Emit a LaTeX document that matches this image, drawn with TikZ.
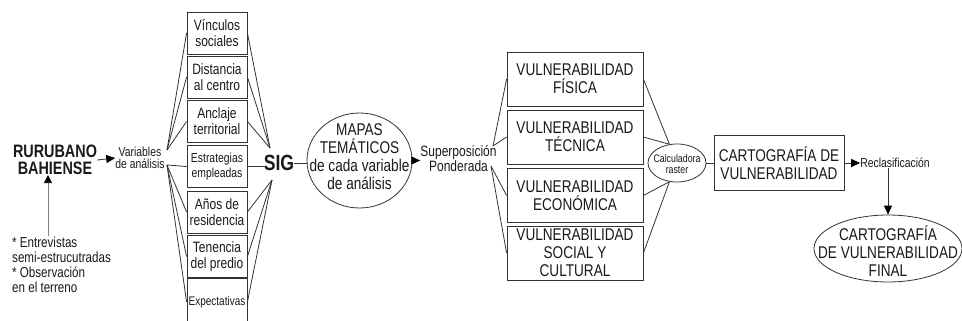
\documentclass[tikz,border=0pt]{standalone}
\usepackage{fontspec}
\setmainfont{Liberation Sans}[FakeStretch=0.8]
\usetikzlibrary{arrows.meta,shapes.geometric}
\begin{document}
\begin{tikzpicture}[x=1pt,y=-1pt,
  ln/.style={draw=black!80, line width=0.8pt},
  arr/.style={ln,-{Triangle[length=9pt,width=8pt,color=black]}},
  txt/.style={inner sep=0pt, align=center, text=black!90},
  varbox/.style={draw=black!80, line width=0.8pt, minimum width=60pt, minimum height=42pt, inner sep=0pt, align=center, text=black!90, font=\fontsize{15}{16}\selectfont},
  vulbox/.style={draw=black!80, line width=0.8pt, minimum width=136pt, minimum height=54pt, inner sep=0pt, align=center, text=black!90, font=\fontsize{17}{18}\selectfont},
  ell/.style={ellipse, draw=black!80, line width=0.8pt, inner sep=0pt}
]
\useasboundingbox (0,0) rectangle (962,321);

% left part
\node[txt, font=\bfseries\fontsize{18}{17}\selectfont] (rb) at (55,160) {RURUBANO\\BAHIENSE};
\node[txt, anchor=west, align=left, font=\fontsize{14.5}{15}\selectfont] (notes) at (12,265) {* Entrevistas\\semi-estrucutradas\\* Observación\\en el terreno};
\coordinate (up0) at (48,236);
\draw[draw=black!50, line width=0.8pt, -{Triangle[length=8pt,width=8pt,color=black]}] (up0) -- (up0 |- rb.south);

\node[txt, font=\fontsize{13}{12}\selectfont] (var) at (140,158) {Variables\\de análisis};
\draw[arr] (rb.east) -- (var.west);

\coordinate (vt) at (167,150);
\coordinate (vb) at (167,165);

\node[varbox] (v1) at (217,33) {Vínculos\\sociales};
\node[varbox] (v2) at (217,77) {Distancia\\al centro};
\node[varbox] (v3) at (217,121.5) {Anclaje\\territorial};
\node[varbox, font=\fontsize{13}{15}\selectfont] (v4) at (217,166.5) {Estrategias\\empleadas};
\node[varbox] (v5) at (217,212) {Años de\\residencia};
\node[varbox] (v6) at (217,256.5) {Tenencia\\del predio};
\node[varbox, minimum height=48pt, font=\fontsize{12.5}{14}\selectfont] (v7) at (217,302) {Expectativas};

\node[txt, font=\bfseries\fontsize{22}{22}\selectfont] (sig) at (279,163) {SIG};
\coordinate (st) at (270,148);
\coordinate (sb) at (272,180);

\foreach \b in {v1,v2,v3} {\draw[ln] (vt) -- (\b.west); \draw[ln] (\b.east) -- (st);}
\foreach \b in {v4,v5,v6,v7} {\draw[ln] (vb) -- (\b.west);}
\foreach \b in {v5,v6,v7} {\draw[ln] (\b.east) -- (sb);}
\draw[ln] (v4.east) -- (v4.east -| sig.west);

% mapas
\node[ell, minimum width=105pt, minimum height=95pt] (mapas) at (359.5,160.5) {};
\node[txt, font=\fontsize{17}{18}\selectfont] (mapastxt) at (359.5,157) {MAPAS\\TEMÁTICOS\\de cada variable\\de análisis};
\draw[ln] (sig.east) -- (sig.east -| mapas.west);

\node[txt, font=\fontsize{15}{15}\selectfont] (sup) at (458.5,159) {Superposición\\Ponderada};
\draw[arr] (mapas.east) -- (mapas.east -| sup.west);

\coordinate (pt) at (493,146);
\coordinate (pb) at (491,166);

\node[vulbox] (w1) at (575,79) {VULNERABILIDAD\\FÍSICA};
\node[vulbox] (w2) at (575,137) {VULNERABILIDAD\\TÉCNICA};
\node[vulbox] (w3) at (575,195.5) {VULNERABILIDAD\\ECONÓMICA};
\node[vulbox] (w4) at (575,253) {VULNERABILIDAD\\SOCIAL Y\\CULTURAL};

\draw[ln] (pt) -- (w1.west);
\draw[ln] (pt) -- (w2.west);
\draw[ln] (pb) -- (w3.west);
\draw[ln] (pb) -- (w4.west);

\node[ell, minimum width=58pt, minimum height=38pt] (calc) at (677,163) {};
\node[txt, font=\fontsize{11}{11}\selectfont] (calctxt) at (677,164) {Calculadora\\raster};
\draw[ln] (w1.east) -- (calc.112);
\draw[ln] (w2.east) -- (calc.112);
\draw[ln] (w3.east) -- (calc.248);
\draw[ln] (w4.east) -- (calc.248);

\node[draw=black!80, line width=0.8pt, minimum width=130pt, minimum height=55pt, inner sep=0pt, align=center, text=black!90, font=\fontsize{17}{18}\selectfont] (cart) at (779,163) {CARTOGRAFÍA DE\\VULNERABILIDAD};
\draw[ln] (calc.east) -- (calc.east -| cart.west);

\node[txt, font=\fontsize{13}{13}\selectfont] (recl) at (895,163) {Reclasificación};
\draw[arr] (cart.east) -- (cart.east -| recl.west);

\node[ell, minimum width=148pt, minimum height=67pt] (fin) at (888,248.5) {};
\node[txt, font=\fontsize{17}{18}\selectfont] (fintxt) at (888,251) {CARTOGRAFÍA\\DE VULNERABILIDAD\\FINAL};
\draw[arr] (fin.north |- recl.south) -- (fin.north);
\end{tikzpicture}
\end{document}
